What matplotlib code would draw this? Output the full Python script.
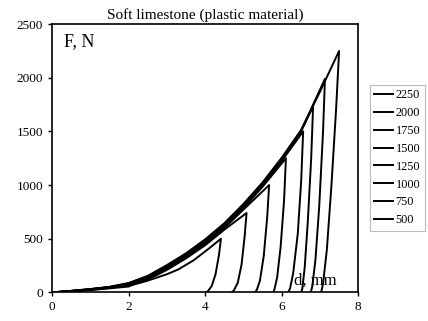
import matplotlib
matplotlib.use("Agg")
from matplotlib import pyplot as plt

plt.rcParams["font.family"] = ["Liberation Serif", "DejaVu Serif"]

labels = ["2250", "2000", "1750", "1500", "1250", "1000", "750", "500"]

# displacement d (mm) and force F (N): loading branch followed by unloading
d_2250 = [0, 0.5, 1, 1.5, 2, 2.5, 3, 3.5, 4, 4.5, 5, 5.5, 6, 6.5, 7, 7.5, 7.42, 7.3, 7.18, 7.08, 7.03]
f_2250 = [0, 15, 32, 52, 88, 155, 255, 365, 495, 645, 825, 1025, 1255, 1510, 1870, 2250, 1700, 1000, 400, 80, 0]

d_2000 = [0, 0.5, 1, 1.5, 2, 2.5, 3, 3.5, 4, 4.5, 5, 5.5, 6, 6.5, 7.13, 7.08, 6.98, 6.88, 6.8, 6.76]
f_2000 = [0, 14, 30, 50, 85, 150, 248, 358, 488, 635, 815, 1015, 1245, 1500, 1990, 1500, 800, 300, 60, 0]

d_1750 = [0, 0.5, 1, 1.5, 2, 2.5, 3, 3.5, 4, 4.5, 5, 5.5, 6, 6.5, 6.82, 6.77, 6.68, 6.6, 6.54, 6.51]
f_1750 = [0, 14, 30, 50, 82, 148, 245, 355, 482, 630, 808, 1008, 1240, 1495, 1735, 1250, 650, 230, 40, 0]

d_1500 = [0, 0.5, 1, 1.5, 2, 2.5, 3, 3.5, 4, 4.5, 5, 5.5, 6, 6.56, 6.51, 6.42, 6.3, 6.22, 6.17]
f_1500 = [0, 13, 28, 48, 78, 140, 235, 345, 470, 618, 795, 995, 1225, 1500, 1050, 550, 180, 40, 0]

d_1250 = [0, 0.5, 1, 1.5, 2, 2.5, 3, 3.5, 4, 4.5, 5, 5.5, 6.11, 6.06, 5.97, 5.88, 5.81, 5.78]
f_1250 = [0, 13, 28, 46, 75, 135, 228, 338, 462, 610, 785, 985, 1250, 850, 420, 140, 30, 0]

d_1000 = [0, 0.5, 1, 1.5, 2, 2.5, 3, 3.5, 4, 4.5, 5, 5.67, 5.62, 5.53, 5.43, 5.35, 5.3]
f_1000 = [0, 12, 26, 44, 70, 128, 220, 330, 455, 600, 772, 1000, 700, 340, 110, 25, 0]

d_750 = [0, 0.5, 1, 1.5, 2, 2.5, 3, 3.5, 4, 4.5, 5.08, 5.03, 4.95, 4.85, 4.75, 4.69]
f_750 = [0, 12, 25, 42, 65, 120, 210, 318, 440, 585, 740, 520, 260, 90, 20, 0]

d_500 = [0, 0.5, 1, 1.5, 2, 2.1, 2.5, 3, 3.3, 3.7, 4.1, 4.41, 4.36, 4.27, 4.17, 4.07, 4.01]
f_500 = [0, 10, 22, 38, 55, 70, 110, 170, 215, 300, 410, 500, 350, 170, 60, 12, 0]

series_d = [d_2250, d_2000, d_1750, d_1500, d_1250, d_1000, d_750, d_500]
series_f = [f_2250, f_2000, f_1750, f_1500, f_1250, f_1000, f_750, f_500]


def main() -> None:
    fig = plt.figure(figsize=(4.28, 3.21), dpi=100)
    ax = fig.add_axes([0.122, 0.089, 0.715, 0.836])

    for d, f, lab in zip(series_d, series_f, labels):
        ax.plot(d, f, color="black", lw=1.4, label=lab)

    ax.set_xlim(0, 8)
    ax.set_ylim(0, 2500)
    ax.set_xticks([0, 2, 4, 6, 8])
    ax.set_yticks([0, 500, 1000, 1500, 2000, 2500])
    ax.tick_params(direction="out", length=3, width=1, labelsize=9.5, top=False, right=False)
    for s in ax.spines.values():
        s.set_linewidth(1.2)

    ax.set_title("Soft limestone (plastic material)", fontsize=11, pad=4)
    ax.text(0.04, 0.965, "F, N", transform=ax.transAxes, fontsize=13, va="top", ha="left")
    ax.text(0.79, 0.015, "d, mm", transform=ax.transAxes, fontsize=12, va="bottom", ha="left")

    leg = fig.legend(loc="upper left", bbox_to_anchor=(370 / 428, 1 - 85 / 321), fontsize=8.8,
                     frameon=True, fancybox=False, edgecolor="#aaaaaa",
                     handlelength=1.55, handletextpad=0.2, labelspacing=0.48,
                     borderpad=0.35, borderaxespad=0)
    leg.get_frame().set_linewidth(0.8)

    fig.savefig("out.png", dpi=100)


if __name__ == "__main__":
    main()
